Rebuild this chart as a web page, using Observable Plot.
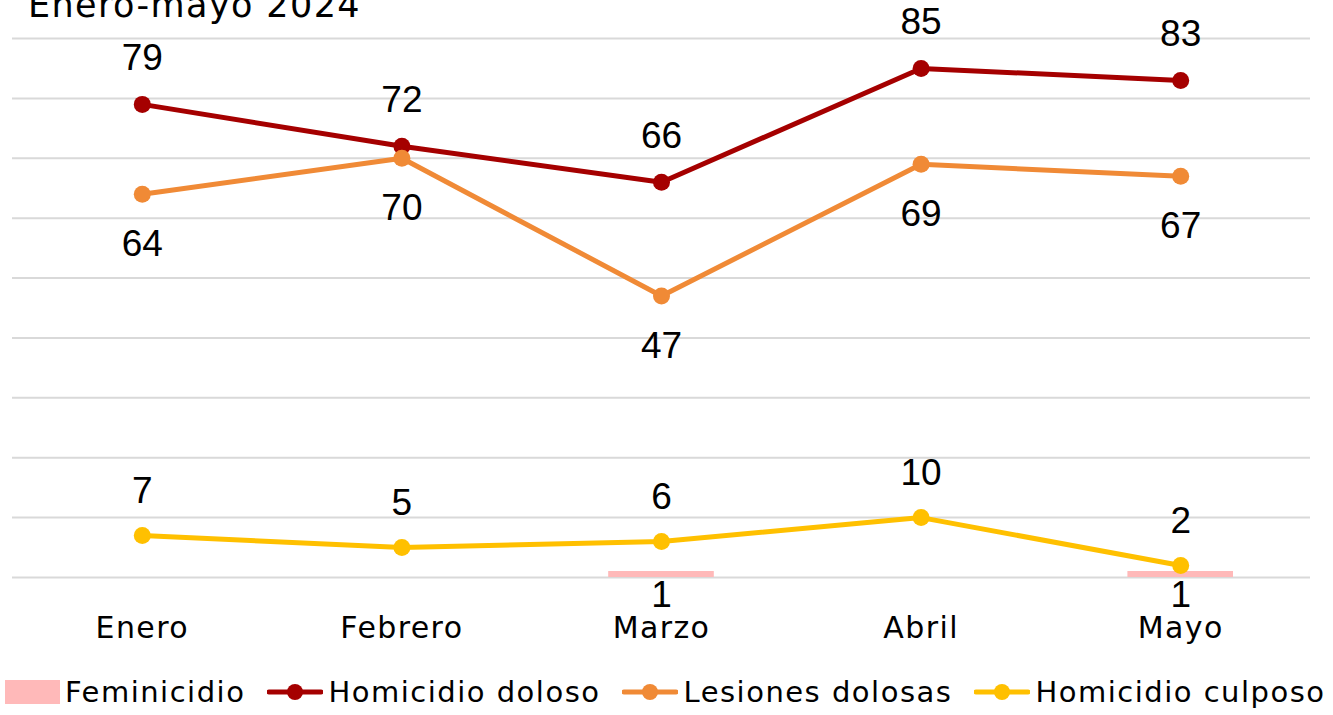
<!DOCTYPE html>
<html><head><meta charset="utf-8">
<script src="https://cdn.jsdelivr.net/npm/d3@7"></script>
<script src="https://cdn.jsdelivr.net/npm/@observablehq/plot@0.6"></script>
<style>
body{margin:0;background:#fff;width:1333px;height:715px;overflow:hidden;position:relative;font-family:"DejaVu Sans",sans-serif;color:#000;}
#title{position:absolute;left:28px;top:-12px;font-size:35px;line-height:1;letter-spacing:1.4px;white-space:nowrap;z-index:2;}
#chart{position:absolute;left:0;top:0;z-index:1;}
#legend{position:absolute;left:5px;top:676px;height:32px;display:flex;align-items:center;font-size:29px;line-height:1;letter-spacing:1.5px;white-space:nowrap;z-index:2;}
.item{display:flex;align-items:center;margin-right:22px;}
.item span{margin-left:5px;}
</style></head>
<body>
<div id="title">Enero-mayo 2024</div>
<div id="chart"></div>
<div id="legend"></div>
<script>
const months = ["Enero","Febrero","Marzo","Abril","Mayo"];
const feminicidio = [null,null,1,null,1];
const homicidioDoloso = [79,72,66,85,83];
const lesionesDolosas = [64,70,47,69,67];
const homicidioCulposo = [7,5,6,10,2];
const seriesNames = ["Feminicidio","Homicidio doloso","Lesiones dolosas","Homicidio culposo"];
const seriesColors = ["#ffb9b9","#a50000","#f08a36","#ffc000"];
const yTicks = [0,10,20,30,40,50,60,70,80,90];

const toRows = (vals, name) => months.map((m,i)=>({month:m, value:vals[i], series:name})).filter(d=>d.value!=null);
const femRows = toRows(feminicidio, seriesNames[0]);
const dolRows = toRows(homicidioDoloso, seriesNames[1]);
const lesRows = toRows(lesionesDolosas, seriesNames[2]);
const culRows = toRows(homicidioCulposo, seriesNames[3]);
const lineRows = [...dolRows, ...lesRows, ...culRows];

const labelFont = "Liberation Sans, Arial, sans-serif";
const lbl = (rows, dy) => Plot.text(rows, {x:"month", y:"value", text:d=>String(d.value), dy, fontSize:37, fontFamily:labelFont, fill:"#000", lineAnchor:"middle"});

const chart = Plot.plot({
  width:1333, height:650,
  marginLeft:12, marginRight:23, marginTop:38, marginBottom:73,
  style:{background:"transparent", color:"#000", fontFamily:"DejaVu Sans, sans-serif"},
  x:{type:"band", domain:months, padding:0, round:false, label:null},
  y:{domain:[0,90], axis:null},
  color:{domain:seriesNames, range:seriesColors},
  marks:[
    Plot.ruleY(yTicks, {stroke:"#d9d9d9", strokeWidth:2}),
    Plot.barY(femRows, {x:"month", y:"value", fill:"series", insetLeft:77, insetRight:77}),
    Plot.line(lineRows, {x:"month", y:"value", z:"series", stroke:"series", strokeWidth:5}),
    Plot.dot(lineRows, {x:"month", y:"value", fill:"series", r:8.5}),
    lbl(dolRows, -46),
    lbl(lesRows, 50),
    lbl(culRows, -44),
    lbl(femRows, 24),
    Plot.axisX({tickSize:0, tickPadding:39, fontSize:30, fontFamily:"DejaVu Sans, sans-serif", label:null})
  ]
});
d3.select(chart).selectAll('g[aria-label="x-axis tick label"]').style("letter-spacing","1.4px");
document.getElementById("chart").appendChild(chart);

const legend = document.getElementById("legend");
seriesNames.forEach((name,i)=>{
  const item = document.createElement("div");
  item.className="item";
  let sw;
  if(i===0){
    sw = `<svg width="55" height="24"><rect x="0" y="0" width="55" height="24" fill="${seriesColors[i]}"/></svg>`;
  } else {
    sw = `<svg width="56" height="20"><line x1="2" y1="10" x2="54" y2="10" stroke="${seriesColors[i]}" stroke-width="5" stroke-linecap="round"/><circle cx="28" cy="10" r="8" fill="${seriesColors[i]}"/></svg>`;
  }
  item.innerHTML = sw + `<span>${name}</span>`;
  legend.appendChild(item);
});
</script>
</body></html>
